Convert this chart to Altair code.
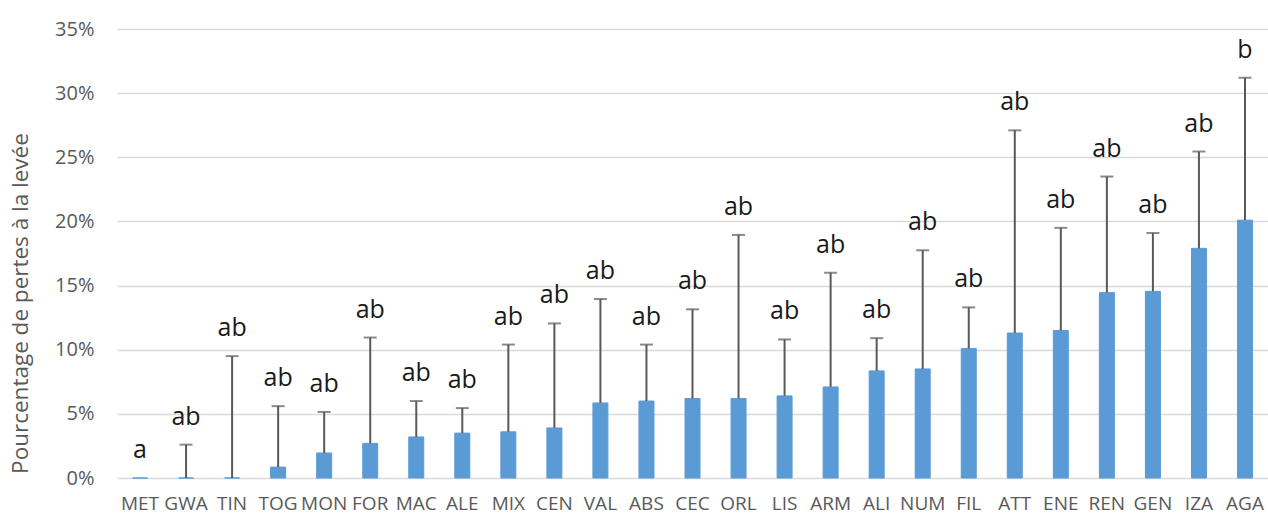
import altair as alt
import pandas as pd

categories = ["MET", "GWA", "TIN", "TOG", "MON", "FOR", "MAC", "ALE", "MIX", "CEN",
              "VAL", "ABS", "CEC", "ORL", "LIS", "ARM", "ALI", "NUM", "FIL", "ATT",
              "ENE", "REN", "GEN", "IZA", "AGA"]
values = [0, 0, 0, 0.85, 1.95, 2.7, 3.2, 3.5, 3.6, 3.9,
          5.85, 6.0, 6.2, 6.2, 6.4, 7.1, 8.35, 8.5, 10.1, 11.3,
          11.5, 14.45, 14.55, 17.9, 20.1]
upper = [0, 2.6, 9.5, 5.6, 5.15, 10.95, 6.0, 5.45, 10.4, 12.05,
         13.95, 10.4, 13.15, 18.95, 10.8, 16.0, 10.9, 17.75, 13.3, 27.1,
         19.5, 23.5, 19.1, 25.45, 31.2]
letters = ["a"] + ["ab"] * 23 + ["b"]
y_ticks = [0, 5, 10, 15, 20, 25, 30, 35]

df = pd.DataFrame({"cat": categories, "val": values, "up": upper, "let": letters})

FONT = "Open Sans"
GREY = "#595959"

x_enc = alt.X("cat:N", sort=categories,
              scale=alt.Scale(paddingInner=0, paddingOuter=0),
              axis=alt.Axis(title=None, labelAngle=0, ticks=False, domain=False,
                            labelFont=FONT, labelFontSize=19, labelColor=GREY,
                            labelPadding=16))
y_scale = alt.Scale(domain=[0, 35], nice=False)

bars = alt.Chart(df).mark_bar(size=15, color="#5b9bd5", stroke="#5b9bd5",
                              strokeWidth=1).encode(
    x=x_enc,
    y=alt.Y("val:Q", scale=y_scale,
            axis=alt.Axis(values=y_ticks, labelExpr="datum.value + '%'",
                          title="Pourcentage de pertes à la levée",
                          titleFont=FONT, titleFontSize=22.5, titleFontWeight="normal",
                          titleColor=GREY, titleX=-97, titleY=274,
                          titleAngle=-90, titleAlign="center", titleBaseline="middle",
                          labelFont=FONT, labelFontSize=20, labelColor=GREY,
                          labelPadding=23, ticks=False, domain=False,
                          grid=True, gridColor="#d9d9d9", gridWidth=1.5)),
)

err_df = alt.Chart(df).transform_filter("datum.up > datum.val")

err = err_df.mark_rule(color=GREY, strokeWidth=2).encode(
    x=alt.X("cat:N", sort=categories),
    y=alt.Y("val:Q", scale=y_scale),
    y2="up:Q",
)
caps = err_df.mark_tick(color=GREY, thickness=2, size=13, orient="horizontal").encode(
    x=alt.X("cat:N", sort=categories),
    y=alt.Y("up:Q", scale=y_scale),
)
labels = alt.Chart(df).mark_text(font=FONT, fontSize=25, color="#1a1a1a",
                                 baseline="alphabetic", dy=-20).encode(
    x=alt.X("cat:N", sort=categories),
    y=alt.Y("up:Q", scale=y_scale),
    text="let:N",
)

chart = alt.layer(bars, err, caps, labels).properties(
    width=1151, height=449,
    autosize=alt.AutoSizeParams(type="none"),
    padding={"left": 117, "top": 29, "right": 0, "bottom": 36},
).configure_view(stroke=None)

chart.save("out.html", embed_options={"renderer": "svg", "actions": False})
